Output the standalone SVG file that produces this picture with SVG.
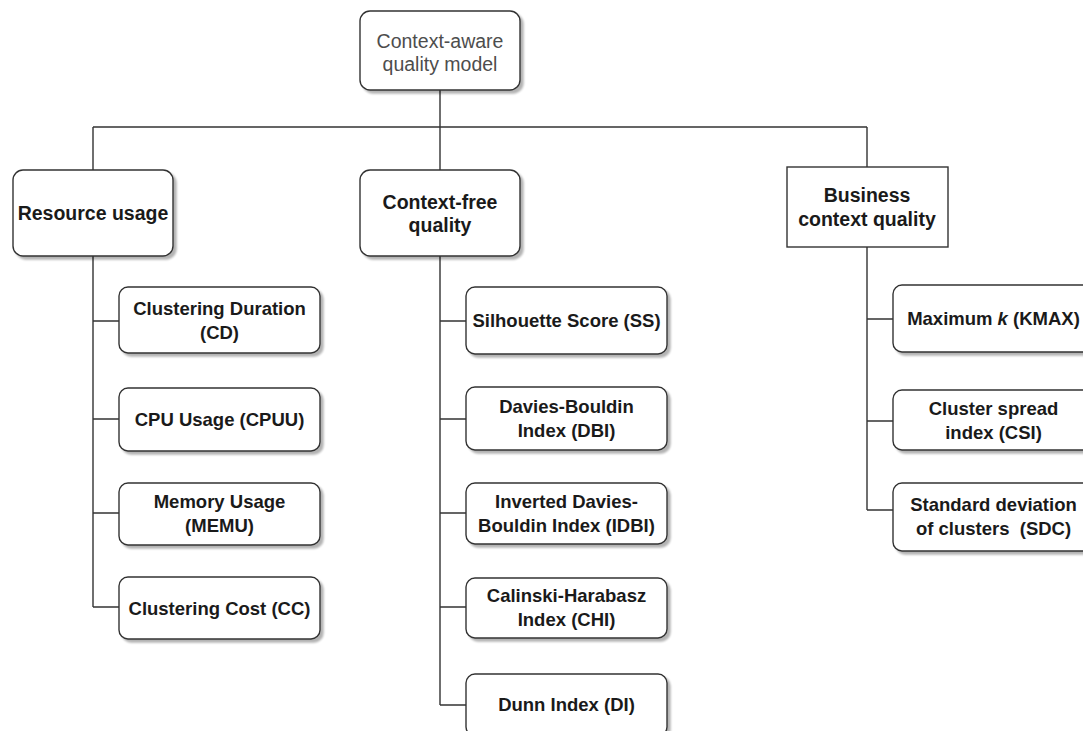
<svg xmlns="http://www.w3.org/2000/svg" width="1083" height="731" viewBox="0 0 1083 731">
  <defs>
    <filter id="shadow" x="-10%" y="-10%" width="130%" height="140%">
      <feGaussianBlur in="SourceAlpha" stdDeviation="1.2"/>
      <feOffset dx="2.5" dy="2.5" result="b"/>
      <feComponentTransfer><feFuncA type="linear" slope="0.3"/></feComponentTransfer>
      <feMerge><feMergeNode/><feMergeNode in="SourceGraphic"/></feMerge>
    </filter>
  </defs>
  <style>
    .box { fill: #ffffff; stroke: #333333; stroke-width: 1.4; }
    .rbox { fill: #ffffff; stroke: #333333; stroke-width: 1.4; filter: url(#shadow); }
    .line { fill: none; stroke: #333333; stroke-width: 1.4; }
    .title { font-family: "Liberation Sans", Arial, sans-serif; font-size: 19.5px; fill: #4d4d4d; text-anchor: middle; }
    .head { font-family: "Liberation Sans", Arial, sans-serif; font-size: 19.5px; font-weight: bold; fill: #1a1a1a; text-anchor: middle; }
    .item { font-family: "Liberation Sans", Arial, sans-serif; font-size: 18.5px; font-weight: bold; fill: #1a1a1a; text-anchor: middle; }
  </style>
  <rect width="1083" height="731" fill="#ffffff"/>

  <g id="connectors">
    <path class="line" d="M440 90 V127 M93 127 H867 M93 127 V170 M440 127 V170 M867 127 V167"/>
    <path class="line" d="M93 256 V607 M93 321 H119 M93 419 H119 M93 513 H119 M93 607 H119"/>
    <path class="line" d="M440 256 V705 M440 321 H466 M440 419 H466 M440 513 H466 M440 607 H466 M440 705 H466"/>
    <path class="line" d="M867 247 V510 M867 319 H893 M867 421 H893 M867 510 H893"/>
  </g>

  <g id="root">
    <rect class="rbox" x="360" y="11" width="160" height="79" rx="10"/>
    <text class="title" x="440" y="48">Context-aware</text>
    <text class="title" x="440" y="71">quality model</text>
  </g>

  <g id="resource-usage">
    <rect class="rbox" x="13" y="170" width="160" height="86" rx="10"/>
    <text class="head" x="93" y="220">Resource usage</text>
  </g>
  <g id="context-free-quality">
    <rect class="rbox" x="360" y="170" width="160" height="86" rx="10"/>
    <text class="head" x="440" y="209">Context-free</text>
    <text class="head" x="440" y="232">quality</text>
  </g>
  <g id="business-context-quality">
    <rect class="box" x="787" y="167" width="161" height="80"/>
    <text class="head" x="867" y="202">Business</text>
    <text class="head" x="867" y="226">context quality</text>
  </g>

  <g id="cd">
    <rect class="rbox" x="119" y="287" width="201" height="66" rx="9"/>
    <text class="item" x="219.5" y="314.5">Clustering Duration</text>
    <text class="item" x="219.5" y="338.5">(CD)</text>
  </g>
  <g id="cpuu">
    <rect class="rbox" x="119" y="388" width="201" height="63" rx="9"/>
    <text class="item" x="219.5" y="426">CPU Usage (CPUU)</text>
  </g>
  <g id="memu">
    <rect class="rbox" x="119" y="483" width="201" height="62" rx="9"/>
    <text class="item" x="219.5" y="508">Memory Usage</text>
    <text class="item" x="219.5" y="532">(MEMU)</text>
  </g>
  <g id="cc">
    <rect class="rbox" x="119" y="577" width="201" height="62" rx="9"/>
    <text class="item" x="219.5" y="614.5">Clustering Cost (CC)</text>
  </g>

  <g id="ss">
    <rect class="rbox" x="466" y="287" width="201" height="67" rx="9"/>
    <text class="item" x="566.5" y="327">Silhouette Score (SS)</text>
  </g>
  <g id="dbi">
    <rect class="rbox" x="466" y="387" width="201" height="63" rx="9"/>
    <text class="item" x="566.5" y="413">Davies-Bouldin</text>
    <text class="item" x="566.5" y="437">Index (DBI)</text>
  </g>
  <g id="idbi">
    <rect class="rbox" x="466" y="483" width="201" height="61" rx="9"/>
    <text class="item" x="566.5" y="508">Inverted Davies-</text>
    <text class="item" x="566.5" y="532">Bouldin Index (IDBI)</text>
  </g>
  <g id="chi">
    <rect class="rbox" x="466" y="578" width="201" height="60" rx="9"/>
    <text class="item" x="566.5" y="602">Calinski-Harabasz</text>
    <text class="item" x="566.5" y="626">Index (CHI)</text>
  </g>
  <g id="di">
    <rect class="rbox" x="466" y="674" width="201" height="62" rx="9"/>
    <text class="item" x="566.5" y="711">Dunn Index (DI)</text>
  </g>

  <g id="kmax">
    <rect class="rbox" x="893" y="285" width="201" height="67" rx="9"/>
    <text class="item" x="993.5" y="325">Maximum <tspan font-style="italic">k</tspan> (KMAX)</text>
  </g>
  <g id="csi">
    <rect class="rbox" x="893" y="390" width="201" height="60" rx="9"/>
    <text class="item" x="993.5" y="414.5">Cluster spread</text>
    <text class="item" x="993.5" y="438.5">index (CSI)</text>
  </g>
  <g id="sdc">
    <rect class="rbox" x="893" y="483" width="201" height="68" rx="9"/>
    <text class="item" x="993.5" y="511">Standard deviation</text>
    <text class="item" x="993.5" y="535" xml:space="preserve">of clusters  (SDC)</text>
  </g>
</svg>
